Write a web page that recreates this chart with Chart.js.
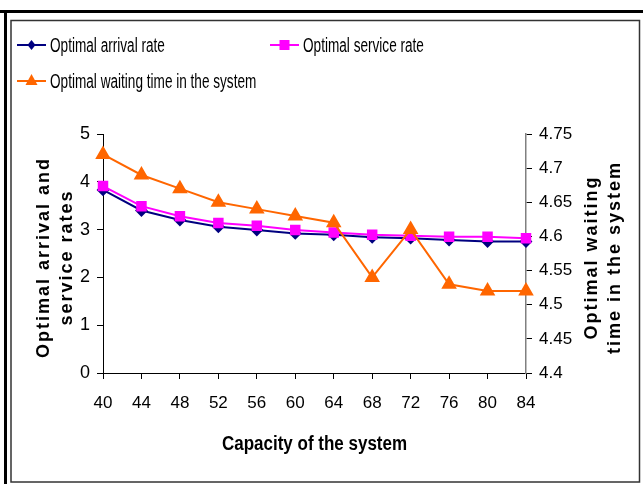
<!DOCTYPE html>
<html>
<head>
<meta charset="utf-8">
<script src="https://cdn.jsdelivr.net/npm/chart.js@4"></script>
<style>
html,body{margin:0;padding:0;background:#fff;}
#wrap{position:relative;width:643px;height:484px;}
</style>
</head>
<body>
<div id="wrap"><canvas id="c" width="643" height="484"></canvas></div>
<script>
const categories = ['40','44','48','52','56','60','64','68','72','76','80','84'];
const arrivalRate = [3.83,3.40,3.20,3.06,2.99,2.92,2.89,2.84,2.82,2.78,2.75,2.75];
const serviceRate = [3.91,3.49,3.28,3.14,3.08,2.99,2.94,2.89,2.87,2.85,2.85,2.82];
const waitingTime = [4.72,4.69,4.67,4.65,4.64,4.63,4.62,4.54,4.61,4.53,4.52,4.52];
const seriesNames = ['Optimal arrival rate','Optimal service rate','Optimal waiting time in the system'];
const leftTicks = [0,1,2,3,4,5];
const rightTicks = [4.4,4.45,4.5,4.55,4.6,4.65,4.7,4.75];
const xTitle = 'Capacity of the system';
const leftTitle = ['Optimal arrival and','service rates'];
const rightTitle = ['Optimal waiting','time in the system'];

const FONT = "'Liberation Sans',Arial,sans-serif";

function condensedText(ctx, text, x, y, sx){
  ctx.save();
  ctx.translate(x,y);
  ctx.scale(sx,1);
  ctx.fillText(text,0,0);
  ctx.restore();
}

const decor = {
  id:'decor',
  beforeDraw(chart){
    const ctx = chart.ctx;
    ctx.save();
    ctx.fillStyle='#fff';
    ctx.fillRect(0,0,chart.width,chart.height);
    ctx.fillStyle='#000';
    ctx.fillRect(0,10,643,3);
    ctx.fillRect(4,10,3,474);
    ctx.strokeStyle='#333';
    ctx.lineWidth=1.5;
    ctx.strokeRect(11,20.5,628.5,461.5);
    ctx.restore();
  },
  afterDraw(chart){
    const ctx = chart.ctx;
    const ds = chart.data.datasets;
    ctx.save();
    // legend
    const items = [
      {i:0,x:17,y:45},
      {i:1,x:270,y:45},
      {i:2,x:17,y:81}
    ];
    ctx.font = '20px '+FONT;
    ctx.textBaseline='middle';
    ctx.textAlign='left';
    items.forEach(it=>{
      const d = ds[it.i];
      ctx.strokeStyle=d.borderColor;
      ctx.lineWidth=2;
      ctx.beginPath();ctx.moveTo(it.x,it.y);ctx.lineTo(it.x+29,it.y);ctx.stroke();
      const cx = it.x+14.5, cy = it.y;
      ctx.fillStyle=d.pointBackgroundColor;
      ctx.beginPath();
      if(d.pointStyle==='rectRot'){ctx.moveTo(cx,cy-5);ctx.lineTo(cx+4,cy);ctx.lineTo(cx,cy+5);ctx.lineTo(cx-4,cy);}
      else if(d.pointStyle==='rect'){ctx.rect(cx-5,cy-5,10,10);}
      else {ctx.moveTo(cx,cy-7);ctx.lineTo(cx+6,cy+4);ctx.lineTo(cx-6,cy+4);}
      ctx.closePath();ctx.fill();
      ctx.fillStyle='#000';
      condensedText(ctx,d.label,it.x+33,it.y+1,0.68);
    });
    // axis titles
    const ca = chart.chartArea;
    ctx.fillStyle='#000';
    ctx.textAlign='center';
    ctx.font='bold 20px '+FONT;
    condensedText(ctx,xTitle,(ca.left+ca.right)/2,444,0.85);
    ctx.font='bold 18px '+FONT;
    ctx.letterSpacing='2px';
    const midY=(ca.top+ca.bottom)/2+4;
    ctx.save();ctx.translate(44,midY);ctx.rotate(-Math.PI/2);
    ctx.fillText(leftTitle[0],0,0);
    ctx.fillText(leftTitle[1],0,23);
    ctx.restore();
    ctx.save();ctx.translate(592,midY);ctx.rotate(-Math.PI/2);
    ctx.fillText(rightTitle[0],0,0);
    ctx.fillText(rightTitle[1],0,23);
    ctx.restore();
    ctx.restore();
  }
};

new Chart(document.getElementById('c'),{
  type:'line',
  data:{
    labels:categories,
    datasets:[
      {label:seriesNames[0],data:arrivalRate,yAxisID:'y',borderColor:'#000080',backgroundColor:'#000080',pointBackgroundColor:'#000080',pointBorderColor:'#000080',pointStyle:'rectRot',pointRadius:5,borderWidth:2,tension:0,order:3},
      {label:seriesNames[1],data:serviceRate,yAxisID:'y',borderColor:'#FF00FF',backgroundColor:'#FF00FF',pointBackgroundColor:'#FF00FF',pointBorderColor:'#FF00FF',pointStyle:'rect',pointRadius:6,borderWidth:2,tension:0,order:2},
      {label:seriesNames[2],data:waitingTime,yAxisID:'y1',borderColor:'#FF6600',backgroundColor:'#FF6600',pointBackgroundColor:'#FF6600',pointBorderColor:'#FF6600',pointStyle:'triangle',pointRadius:7,borderWidth:2,tension:0,order:1}
    ]
  },
  options:{
    responsive:false,
    animation:false,
    layout:{padding:{left:10,right:10,top:134,bottom:0}},
    plugins:{legend:{display:false},tooltip:{enabled:false}},
    scales:{
      x:{
        offset:false,
        grid:{display:true,drawOnChartArea:false,drawTicks:true,tickLength:6,color:'#000'},
        border:{color:'#000',width:1},
        ticks:{color:'#000',font:{family:FONT,size:17},padding:14,maxRotation:0,autoSkip:false},
        afterFit(s){s.height=111;}
      },
      y:{
        position:'left',min:0,max:5,
        afterBuildTicks(s){s.ticks=leftTicks.map(v=>({value:v}));},
        grid:{drawOnChartArea:false,tickLength:6,color:'#000'},
        border:{color:'#000',width:1},
        ticks:{color:'#000',font:{family:FONT,size:18},padding:7},
        afterFit(s){s.width=93;}
      },
      y1:{
        position:'right',min:4.4,max:4.75,
        afterBuildTicks(s){s.ticks=rightTicks.map(v=>({value:v}));},
        grid:{drawOnChartArea:false,tickLength:6,color:'#000'},
        border:{color:'#808080',width:1.5},
        ticks:{color:'#000',font:{family:FONT,size:17},padding:7,callback:v=>String(Math.round(v*100)/100)},
        afterFit(s){s.width=107;}
      }
    }
  },
  plugins:[decor]
});
</script>
</body>
</html>
